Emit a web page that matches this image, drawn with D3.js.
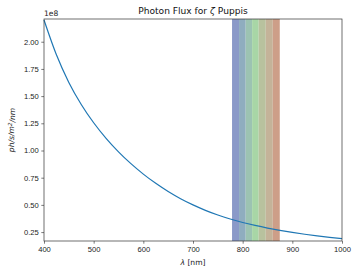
<!DOCTYPE html>
<html>
<head>
<meta charset="utf-8">
<script src="https://cdn.jsdelivr.net/npm/d3@7"></script>
<style>
  body { margin: 0; background: #fff; }
  svg { font-family: "DejaVu Sans", sans-serif; }
</style>
</head>
<body>
<div id="chart"></div>
<script>
// wavelength samples (nm) and photon flux (units of 1e8 ph/s/m^2/nm)
const wavelengths = [400, 425, 450, 475, 500, 525, 550, 575, 600, 625, 650, 675, 700,
  725, 750, 775, 800, 825, 850, 875, 900, 925, 950, 975, 1000];
const flux = [2.200, 1.880, 1.626, 1.423, 1.255, 1.112, 0.988, 0.879, 0.783, 0.698, 0.623, 0.557, 0.500,
  0.450, 0.407, 0.370, 0.338, 0.311, 0.287, 0.266, 0.247, 0.230, 0.215, 0.201, 0.189];

// filter bands (nm)
const bandStart = [778.6, 792.7, 806.1, 819.0, 832.3, 846.5, 860.6];
const bandEnd = [792.7, 806.1, 819.0, 832.3, 846.5, 860.6, 874.7];
const bandColors = ["#8a99c8", "#8fadbf", "#9cc3b2", "#a8d6a6", "#b8c29e", "#c4b399", "#cd9e88"];

const xTicks = [400, 500, 600, 700, 800, 900, 1000];
const yTicks = [0.25, 0.50, 0.75, 1.00, 1.25, 1.50, 1.75, 2.00];

const width = 359, height = 273;
const margin = { top: 19, right: 17, bottom: 32, left: 44 };

const svg = d3.select('#chart')
  .append('svg')
  .attr('width', width)
  .attr('height', height);

const x = d3.scaleLinear()
  .domain([400, 1000])
  .range([margin.left, width - margin.right]);

const y = d3.scaleLinear()
  .domain([0.168, 2.209])
  .range([height - margin.bottom, margin.top]);

// bands
svg.selectAll('.band')
  .data(bandStart)
  .enter()
  .append('rect')
  .attr('class', 'band')
  .attr('x', (d, i) => x(d))
  .attr('y', margin.top)
  .attr('width', (d, i) => x(bandEnd[i]) - x(d))
  .attr('height', y.range()[0] - margin.top)
  .attr('fill', (d, i) => bandColors[i]);

// flux curve
const line = d3.line()
  .x((d, i) => x(wavelengths[i]))
  .y(d => y(d))
  .curve(d3.curveMonotoneX);

svg.append('path')
  .datum(flux)
  .attr('d', line)
  .attr('fill', 'none')
  .attr('stroke', '#1f77b4')
  .attr('stroke-width', 1.2);

// axes
const xAxis = d3.axisBottom(x)
  .tickValues(xTicks)
  .tickFormat(d3.format('d'))
  .tickSize(2.7)
  .tickPadding(2.5);

const yAxis = d3.axisLeft(y)
  .tickValues(yTicks)
  .tickFormat(d3.format('.2f'))
  .tickSize(2.7)
  .tickPadding(2.5);

const gx = svg.append('g')
  .attr('transform', `translate(0,${height - margin.bottom})`)
  .call(xAxis);

const gy = svg.append('g')
  .attr('transform', `translate(${margin.left},0)`)
  .call(yAxis);

[gx, gy].forEach(g => {
  g.select('.domain').remove();
  g.selectAll('line').attr('stroke', '#222').attr('stroke-width', 0.6);
  g.selectAll('text').attr('fill', '#222').style('font-size', '7.6px');
});

// frame
svg.append('rect')
  .attr('x', margin.left)
  .attr('y', margin.top)
  .attr('width', width - margin.left - margin.right)
  .attr('height', height - margin.top - margin.bottom)
  .attr('fill', 'none')
  .attr('stroke', '#333')
  .attr('stroke-width', 0.7);

// offset label
svg.append('text')
  .attr('x', margin.left)
  .attr('y', 16)
  .style('font-size', '7.6px')
  .attr('fill', '#222')
  .text('1e8');

// title
const title = svg.append('text')
  .attr('x', (margin.left + width - margin.right) / 2)
  .attr('y', 14)
  .attr('text-anchor', 'middle')
  .style('font-size', '9.1px')
  .attr('fill', '#111');
title.append('tspan').text('Photon Flux for ');
title.append('tspan').style('font-style', 'italic').text('ζ');
title.append('tspan').text(' Puppis');

// x label
const xl = svg.append('text')
  .attr('x', (margin.left + width - margin.right) / 2)
  .attr('y', 265)
  .attr('text-anchor', 'middle')
  .style('font-size', '7.6px')
  .attr('fill', '#222');
xl.append('tspan').style('font-style', 'italic').text('λ');
xl.append('tspan').text(' [nm]');

// y label
const yl = svg.append('text')
  .attr('transform', `translate(14,${(margin.top + height - margin.bottom) / 2}) rotate(-90)`)
  .attr('text-anchor', 'middle')
  .style('font-size', '7.6px')
  .style('font-style', 'italic')
  .attr('fill', '#222');
yl.append('tspan').text('ph/s/m');
yl.append('tspan').attr('dy', '-0.4em').style('font-size', '5.5px').text('2');
yl.append('tspan').attr('dy', '0.4em').text('/nm');
</script>
</body>
</html>
